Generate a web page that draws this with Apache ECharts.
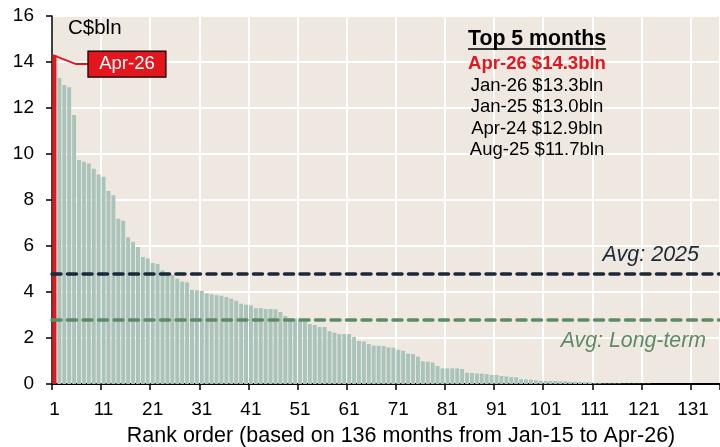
<!DOCTYPE html>
<html>
<head>
<meta charset="utf-8">
<script src="https://cdn.jsdelivr.net/npm/echarts@6/dist/echarts.min.js"></script>
<style>
  html, body { margin: 0; padding: 0; background: #fff; }
  #chart { width: 720px; height: 447px; }
</style>
</head>
<body>
<div id="chart"></div>
<script>
// monthly values sorted high -> low (C$bln), rank 1 = Apr-26
const values = [
  14.3, 13.3, 13.0, 12.9, 11.7, 9.74, 9.66, 9.59, 9.36, 9.11,
  9.01, 8.39, 8.21, 7.19, 7.10, 6.38, 6.19, 5.96, 5.52, 5.46,
  5.26, 5.22, 4.94, 4.81, 4.74, 4.58, 4.45, 4.42, 4.09, 4.07,
  4.05, 3.94, 3.90, 3.86, 3.84, 3.78, 3.71, 3.62, 3.49, 3.45,
  3.42, 3.30, 3.30, 3.26, 3.26, 3.25, 3.13, 2.96, 2.84, 2.84,
  2.75, 2.70, 2.61, 2.57, 2.48, 2.48, 2.30, 2.23, 2.17, 2.17,
  2.17, 2.04, 1.87, 1.85, 1.74, 1.67, 1.66, 1.65, 1.59, 1.58,
  1.49, 1.45, 1.32, 1.30, 1.19, 0.99, 0.97, 0.93, 0.78, 0.68,
  0.68, 0.68, 0.68, 0.65, 0.49, 0.48, 0.46, 0.45, 0.43, 0.39,
  0.39, 0.35, 0.33, 0.30, 0.29, 0.21, 0.20, 0.19, 0.16, 0.14,
  0.13, 0.13, 0.13, 0.12, 0.12, 0.10, 0.10, 0.09, 0.08, 0.07,
  0.03, 0.03, 0.02, 0.02, 0.02, 0.02, 0.01, 0.01, 0.01, 0.01,
  0.01, 0.01, 0, 0, 0, 0, 0, 0, 0, 0,
  0, 0, 0, 0, 0, 0
];
const ranks = values.map((v, i) => String(i + 1));
const latestLabel = 'Apr-26';
const topTitle = 'Top 5 months';
const topMonths = ['Apr-26 $14.3bln', 'Jan-26 $13.3bln', 'Jan-25 $13.0bln', 'Apr-24 $12.9bln', 'Aug-25 $11.7bln'];
const avg2025 = 4.8;
const avgLongTerm = 2.8;

const FONT = 'Liberation Sans, Arial, sans-serif';
const RED = '#E3161E';
const NAVY = '#1B2937';
const GREEN = '#5C8B65';

const chart = echarts.init(document.getElementById('chart'));

chart.setOption({
  animation: false,
  grid: {
    left: 52, top: 16, width: 672, height: 368,
    show: true, backgroundColor: '#EEE8E1', borderWidth: 0
  },
  xAxis: {
    type: 'category',
    data: ranks,
    boundaryGap: true,
    axisLine: { lineStyle: { color: '#000', width: 1.8 } },
    axisTick: { show: true, interval: 9, length: 6, lineStyle: { color: '#000', width: 1.5 } },
    axisLabel: { interval: 9, color: '#000', fontSize: 19, fontFamily: FONT, margin: 16 },
    splitLine: { show: true, interval: 9, lineStyle: { color: '#fff', width: 2 } }
  },
  yAxis: {
    type: 'value',
    min: 0, max: 16, interval: 2,
    axisLine: { show: true, lineStyle: { color: '#000', width: 1.5 } },
    axisTick: { show: true, length: 6, lineStyle: { color: '#000', width: 1.5 } },
    axisLabel: { color: '#000', fontSize: 19, fontFamily: FONT, margin: 18 },
    splitLine: { show: true, lineStyle: { color: '#fff', width: 2 } }
  },
  series: [{
    type: 'bar',
    barWidth: '80%',
    data: values.map((v, i) => i === 0 ? { value: v, itemStyle: { color: RED } } : v),
    itemStyle: { color: '#AAC4BB' },
    markLine: {
      silent: true,
      symbol: 'none',
      label: { show: false },
      data: [
        { yAxis: avg2025, lineStyle: { color: NAVY, width: 3.5, type: [9, 6.5], cap: 'round' } },
        { yAxis: avgLongTerm, lineStyle: { color: GREEN, width: 3.5, type: [9, 6.5], cap: 'round' } }
      ]
    }
  }]
});

// annotations placed from the axis scales
const barTop = chart.convertToPixel({ gridIndex: 0 }, [0, values[0]]);
const y25 = chart.convertToPixel({ gridIndex: 0 }, [0, avg2025])[1];
const yLT = chart.convertToPixel({ gridIndex: 0 }, [0, avgLongTerm])[1];
const sx = barTop[0] - 1.5, sy = barTop[1];

const graphics = [
  { type: 'text', left: 68, top: 18, style: { text: 'C$bln', fill: '#000', font: '20.5px ' + FONT } },
  { type: 'polyline', shape: { points: [[sx, sy], [sx + 23, sy + 9], [sx + 35, sy + 9]] },
    style: { stroke: RED, lineWidth: 2, fill: null }, z: 10 },
  { type: 'rect', shape: { x: sx + 35, y: sy - 4, width: 78, height: 26 },
    style: { fill: RED, stroke: '#000', lineWidth: 1.2 }, z: 10 },
  { type: 'text', x: sx + 74, y: sy + 9, z: 11,
    style: { text: latestLabel, fill: '#fff', font: '18.5px ' + FONT, textAlign: 'center', textVerticalAlign: 'middle' } },
  { type: 'text', x: 699, y: y25 - 19, z: 10,
    style: { text: 'Avg: 2025', fill: NAVY, font: 'italic 21.5px ' + FONT, textAlign: 'right', textVerticalAlign: 'middle' } },
  { type: 'text', x: 706, y: yLT + 21, z: 10,
    style: { text: 'Avg: Long-term', fill: GREEN, font: 'italic 21.3px ' + FONT, textAlign: 'right', textVerticalAlign: 'middle' } },
  { type: 'text', x: 537, y: 39, z: 10,
    style: { text: topTitle, fill: '#000', font: 'bold 21.3px ' + FONT, textAlign: 'center', textVerticalAlign: 'middle' } },
  { type: 'line', shape: { x1: 468, y1: 49, x2: 606, y2: 49 }, style: { stroke: '#000', lineWidth: 1.6 }, z: 10 },
  { type: 'text', x: 401, y: 436.5, z: 10,
    style: { text: 'Rank order (based on 136 months from Jan-15 to Apr-26)', fill: '#000', font: '21.5px ' + FONT,
      textAlign: 'center', textVerticalAlign: 'middle' } }
];
topMonths.forEach((t, i) => {
  graphics.push({ type: 'text', x: 537, y: 64 + i * 21.6, z: 10,
    style: { text: t, fill: i === 0 ? RED : '#000', font: (i === 0 ? 'bold ' : '') + '18.5px ' + FONT,
      textAlign: 'center', textVerticalAlign: 'middle' } });
});
chart.setOption({ graphic: graphics });
</script>
</body>
</html>
